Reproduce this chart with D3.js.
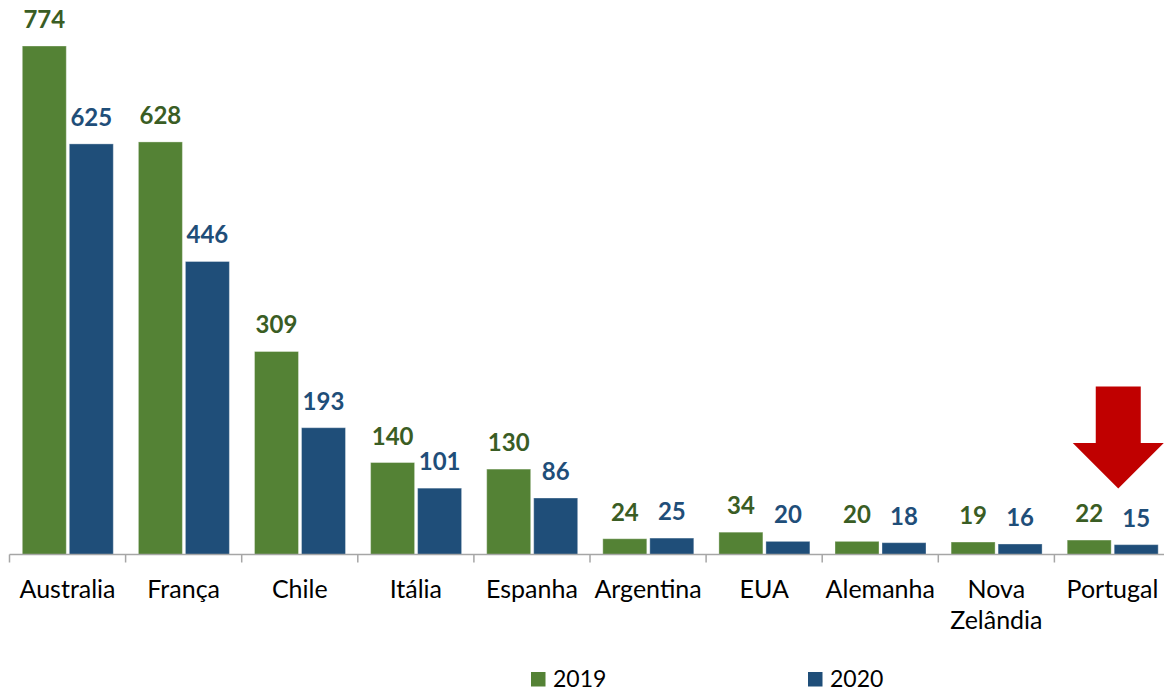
<!DOCTYPE html>
<html><head><meta charset="utf-8">
<script src="https://cdn.jsdelivr.net/npm/d3@7"></script>
<style>
html,body{margin:0;padding:0;background:#fff;}
svg{display:block;font-family:Lato,"Open Sans",sans-serif;}
</style></head>
<body>
<svg id="chart" width="1164" height="691"></svg>
<script>
const categories = ["Australia","França","Chile","Itália","Espanha","Argentina","EUA","Alemanha","Nova Zelândia","Portugal"];
const series = ["2019","2020"];
const values2019 = [774,628,309,140,130,24,34,20,19,22];
const values2020 = [625,446,193,101,86,25,20,18,16,15];
const seriesColors = ["#548235","#1F4E79"];
const labelColors = ["#3A5D24","#1F4E79"];
const highlight = "Portugal";

const svg = d3.select("#chart");
const x0 = 9.5, step = 116.1;
const x = d3.scaleBand().domain(categories).range([x0, x0 + step*categories.length]).paddingInner(0).paddingOuter(0);
const xs = d3.scaleBand().domain(series).range([12.8, 103.8]).paddingInner(2 - 91/47);
const y = d3.scaleLinear().domain([0, 774]).range([554.5, 46]);

const data = categories.map((c,i)=>({cat:c, vals:[values2019[i], values2020[i]]}));

const g = svg.append("g");
const groups = g.selectAll("g.grp").data(data).join("g").attr("class","grp")
  .attr("transform", d=>`translate(${x(d.cat)},0)`);

groups.selectAll("rect").data(d=>d.vals.map((v,j)=>({s:series[j], v, j})))
  .join("rect")
  .attr("x", d=>xs(d.s))
  .attr("width", xs.bandwidth())
  .attr("y", d=>y(d.v))
  .attr("height", d=>y(0)-y(d.v))
  .attr("fill", d=>seriesColors[d.j])
  .attr("stroke", "#ffffff").attr("stroke-opacity",0.35).attr("stroke-width",1);

groups.selectAll("text.val").data(d=>d.vals.map((v,j)=>({s:series[j], v, j})))
  .join("text").attr("class","val")
  .attr("x", d=>xs(d.s)+xs.bandwidth()/2)
  .attr("y", d=>y(d.v)-18)
  .attr("text-anchor","middle")
  .attr("font-size",24).attr("font-weight","bold")
  .attr("fill", d=>labelColors[d.j])
  .text(d=>d.v);

// axis line & ticks
const axisY = y(0);
const axisColor = "#A6A6A6";
g.append("line").attr("x1", x.range()[0]).attr("x2", x.range()[1]).attr("y1",axisY).attr("y2",axisY)
  .attr("stroke",axisColor).attr("stroke-width",1.5);
g.selectAll("line.tick").data(categories.concat(["__end"])).join("line").attr("class","tick")
  .attr("x1", (d,i)=> i<categories.length ? x(d) : x.range()[1])
  .attr("x2", (d,i)=> i<categories.length ? x(d) : x.range()[1])
  .attr("y1", axisY).attr("y2", axisY+8)
  .attr("stroke",axisColor).attr("stroke-width",1.5);

// category labels
const ax = d3.axisBottom(x).tickSize(0).tickPadding(0);
const axG = g.append("g").attr("transform",`translate(0,${axisY})`).call(ax);
axG.select(".domain").remove();
axG.selectAll("text").attr("font-size",25).attr("fill","#000").attr("font-family","Lato, 'Open Sans', sans-serif")
  .attr("dy",null).attr("y",43.5)
  .each(function(d){
    const t = d3.select(this);
    const words = d.split(" ");
    if (words.length > 1 && this.getComputedTextLength() > x.bandwidth()-6) {
      t.text(null);
      words.forEach((w,i)=>t.append("tspan").attr("x",0).attr("dy", i===0 ? 0 : 30.5).text(w));
    }
  });

// highlight arrow over Portugal
const px = x(highlight) + x.bandwidth()/2 + 5.8;
const arrowTop = 386.5, shaftBot = 443, tipY = 488.5, shaftHalf = 22.5, headHalf = 45.5;
svg.append("path")
  .attr("d", `M${px-shaftHalf},${arrowTop} L${px+shaftHalf},${arrowTop} L${px+shaftHalf},${shaftBot} L${px+headHalf},${shaftBot} L${px},${tipY} L${px-headHalf},${shaftBot} L${px-shaftHalf},${shaftBot} Z`)
  .attr("fill","#C00000");

// legend
const legend = svg.append("g");
const legX = [531, 808];
series.forEach((s,i)=>{
  legend.append("rect").attr("x",legX[i]).attr("y",672).attr("width",14.5).attr("height",14.5).attr("fill",seriesColors[i]);
  legend.append("text").attr("x",legX[i]+22).attr("y",686.5).attr("font-size",23).attr("fill","#000").text(s);
});
</script>
</body></html>
